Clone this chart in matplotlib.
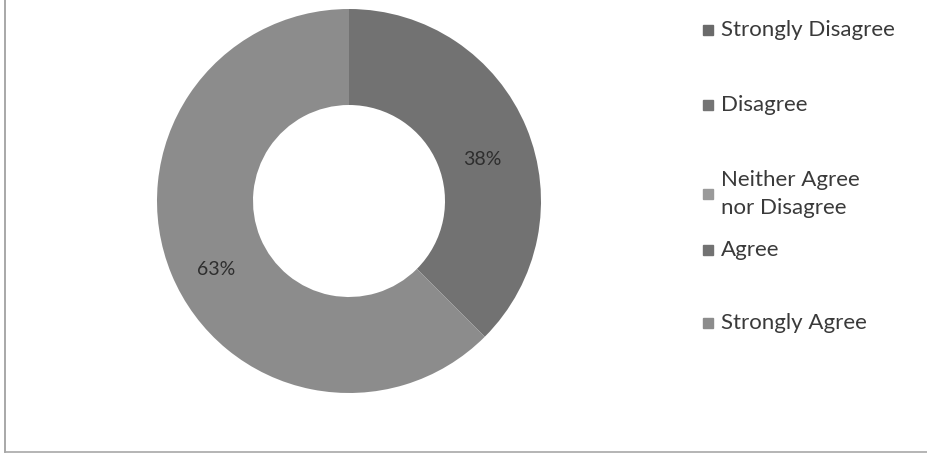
import matplotlib
matplotlib.use("Agg")
import matplotlib.pyplot as plt

# Survey responses (counts)
categories = ["Strongly Disagree", "Disagree", "Neither Agree\nnor Disagree", "Agree", "Strongly Agree"]
counts = [0, 0, 0, 3, 5]
colors = ["#6a6a6a", "#747474", "#9a9a9a", "#727272", "#8c8c8c"]

plt.rcParams['font.family'] = ['Lato', 'DejaVu Sans']

fig = plt.figure(figsize=(9.27, 4.55), dpi=100, facecolor='white')
ax = fig.add_axes([0.0, 0.0, 1.0, 1.0])
ax.set_xlim(0, 927)
ax.set_ylim(455, 0)
ax.axis('off')

# donut in its own axes so the pie stays round
cx, cy, r = 349, 201, 192
pax = fig.add_axes([(cx - r) / 927, 1 - (cy + r) / 455, 2 * r / 927, 2 * r / 455])


def pct_label(p):
    if p <= 0:
        return ''
    return '%d%%' % int(p + 0.5)


wedges, texts, autotexts = pax.pie(
    counts, colors=colors, startangle=90, counterclock=False,
    autopct=pct_label, pctdistance=0.75,
    wedgeprops=dict(width=0.5, linewidth=0),
    textprops=dict(fontsize=14, color='#2e2e2e'))
# Excel puts the data labels a little lower than the wedge middle
for t in autotexts:
    t.set_y(t.get_position()[1] - 0.07)
pax.set_xlim(-1, 1)
pax.set_ylim(-1, 1)
pax.set_aspect('equal')
pax.axis('off')

# legend, laid out like the Excel one (uneven slots)
legend_y = [30, 105, 194, 250, 323]
for label, col, y in zip(categories, colors, legend_y):
    ax.add_patch(plt.Rectangle((703, y - 5), 10, 10, color=col))
    ax.text(721, y, label, fontsize=16, color='#3a3a3a', va='center', ha='left',
            linespacing=1.45)

# thin frame on left and bottom
ax.plot([5, 5], [0, 452], color='#9a9a9a', lw=1.2)
ax.plot([5, 927], [452, 452], color='#a8a8a8', lw=1.2)

fig.savefig('out.png', dpi=100, facecolor='white')
